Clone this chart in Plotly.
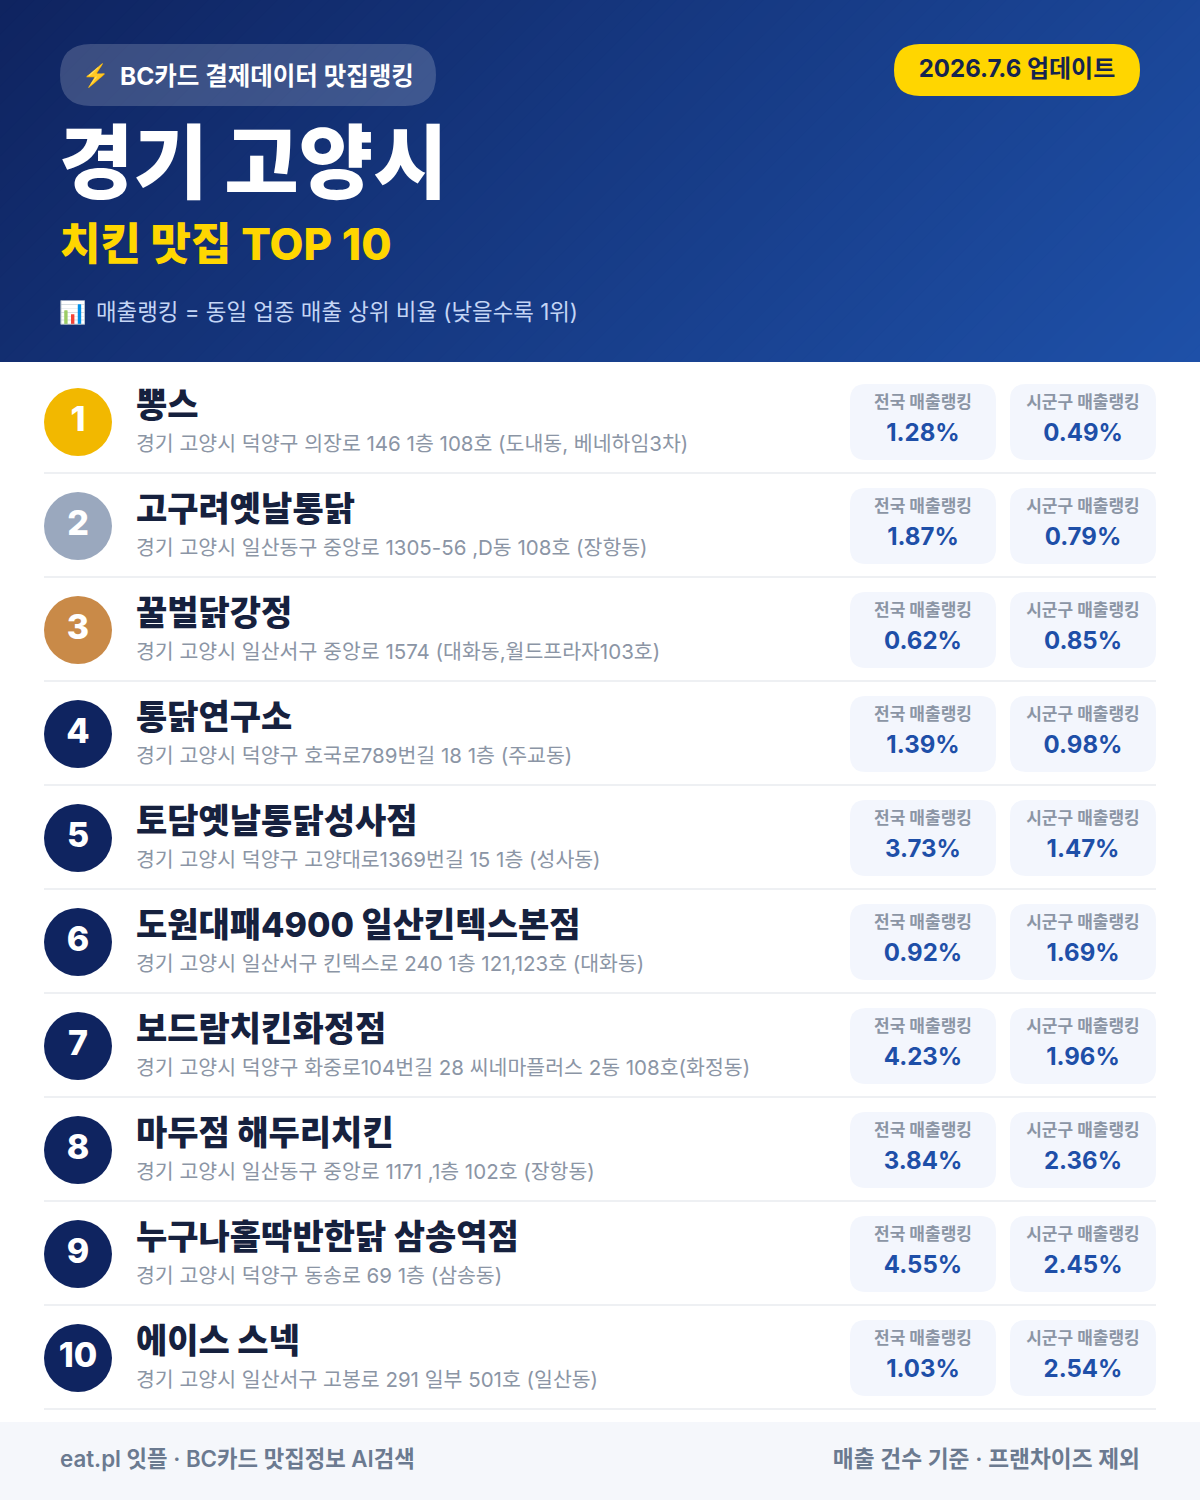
import plotly.graph_objects as go

# ---- data ----
ranks = list(range(1, 11))
names = ["뽕스", "고구려옛날통닭", "꿀벌닭강정", "통닭연구소", "토담옛날통닭성사점",
         "도원대패4900 일산킨텍스본점", "보드람치킨화정점", "마두점 해두리치킨",
         "누구나홀딱반한닭 삼송역점", "에이스 스넥"]
addresses = [
    "경기 고양시 덕양구 의장로 146 1층 108호 (도내동, 베네하임3차)",
    "경기 고양시 일산동구 중앙로 1305-56 ,D동 108호 (장항동)",
    "경기 고양시 일산서구 중앙로 1574 (대화동,월드프라자103호)",
    "경기 고양시 덕양구 호국로789번길 18 1층 (주교동)",
    "경기 고양시 덕양구 고양대로1369번길 15 1층 (성사동)",
    "경기 고양시 일산서구 킨텍스로 240 1층 121,123호 (대화동)",
    "경기 고양시 덕양구 화중로104번길 28 씨네마플러스 2동 108호(화정동)",
    "경기 고양시 일산동구 중앙로 1171 ,1층 102호 (장항동)",
    "경기 고양시 덕양구 동송로 69 1층 (삼송동)",
    "경기 고양시 일산서구 고봉로 291 일부 501호 (일산동)",
]
national = [1.28, 1.87, 0.62, 1.39, 3.73, 0.92, 4.23, 3.84, 4.55, 1.03]
local = [0.49, 0.79, 0.85, 0.98, 1.47, 1.69, 1.96, 2.36, 2.45, 2.54]
national_label = "전국 매출랭킹"
local_label = "시군구 매출랭킹"

# ---- style ----
FONT = "Inter, Noto Sans CJK KR"
W, H = 1200, 1500
HEAD_H = 362
ROW0, ROW_STEP = 422, 104
G0, G1 = (15, 36, 96), (30, 80, 168)
NAVY = "#0f2460"
badge_colors = ["#f2b800", "#9aa8be", "#c98a48"] + [NAVY] * 7


def rr(x0, y0, x1, y1, r):
    return (f"M{x0+r},{y0} L{x1-r},{y0} Q{x1},{y0} {x1},{y0+r} L{x1},{y1-r} Q{x1},{y1} {x1-r},{y1} "
            f"L{x0+r},{y1} Q{x0},{y1} {x0},{y1-r} L{x0},{y0+r} Q{x0},{y0} {x0+r},{y0} Z")


shapes = []
# diagonal header gradient: each step paints x+y >= c clipped to the header
STEPS = 90
L = W + HEAD_H
for s in range(STEPS):
    t = s / (STEPS - 1)
    c = L * s / STEPS
    col = "rgb(%d,%d,%d)" % tuple(round(a + (b - a) * t) for a, b in zip(G0, G1))
    pts = []
    if c <= W:
        pts.append((c, 0))
    else:
        pts.append((W, c - W))
    if c <= W:
        pts.append((W, 0))
    pts.append((W, HEAD_H))
    if c >= HEAD_H:
        pts.append((c - HEAD_H, HEAD_H))
    else:
        pts.append((0, HEAD_H))
        pts.append((0, c))
    path = "M" + " L".join(f"{x},{y}" for x, y in pts) + " Z"
    shapes.append(dict(type="path", path=path, fillcolor=col, line_width=0, layer="below"))

shapes.append(dict(type="path", path=rr(60, 44, 436, 106, 31), fillcolor="rgba(255,255,255,0.18)",
                   line_width=0, layer="below"))
shapes.append(dict(type="path", path=rr(894, 44, 1140, 96, 26), fillcolor="#ffd600",
                   line_width=0, layer="below"))
shapes.append(dict(type="rect", x0=0, x1=W, y0=1422, y1=H, fillcolor="#f5f7fb",
                   line_width=0, layer="below"))

for i in range(len(ranks)):
    yc = ROW0 + ROW_STEP * i
    shapes.append(dict(type="line", x0=44, x1=1156, y0=yc + 51, y1=yc + 51,
                       line=dict(color="#eef0f3", width=2), layer="below"))
    for x0 in (850, 1010):
        shapes.append(dict(type="path", path=rr(x0, yc - 38, x0 + 146, yc + 38, 16),
                           fillcolor="#f3f6fd", line_width=0, layer="below"))

fig = go.Figure()


def text(x, y, t, size, color, weight=400, pos="middle right"):
    fig.add_trace(go.Scatter(
        x=x, y=y, text=t, mode="text", textposition=pos, hoverinfo="skip", showlegend=False,
        textfont=dict(family=FONT, size=size, color=color, weight=weight), cliponaxis=False))


ys = [ROW0 + ROW_STEP * i for i in range(len(ranks))]

fig.add_trace(go.Scatter(
    x=[78] * len(ranks), y=ys, mode="markers", hoverinfo="skip", showlegend=False,
    marker=dict(size=68, color=badge_colors, line_width=0), cliponaxis=False))

# header
text([120], [79], ["BC카드 결제데이터 맛집랭킹"], 24.5, "#ffffff", 700)
text([82], [77], ["⚡"], 22, "#f7c52e", 400)
text([1017], [71], ["2026.7.6 업데이트"], 24, "#152450", 700, "middle center")
text([59], [172], ["경기 고양시"], 81, "#ffffff", 900)
text([60], [249], ["치킨 맛집 TOP 10"], 44, "#ffd600", 800)
text([59], [314], ["📊"], 22, "#ffffff", 400)
text([96], [314], ["매출랭킹 = 동일 업종 매출 상위 비율 (낮을수록 1위)"], 22.4, "#c4d5f5", 400)

# rows
text([78] * 10, ys, [str(r) for r in ranks], 34, "#ffffff", 800, "middle center")
text([136] * 10, [y - 14 for y in ys], names, 34, "#16213e", 800)
text([136] * 10, [y + 24 for y in ys], addresses, 20.5, "#8b95a5", 400)
text([923] * 10, [y - 18 for y in ys], [national_label] * 10, 17, "#8b95a5", 700, "middle center")
text([1083] * 10, [y - 18 for y in ys], [local_label] * 10, 17, "#8b95a5", 700, "middle center")
text([923] * 10, [y + 13 for y in ys], [f"{v:.2f}%" for v in national], 24, "#1e4fa8", 700, "middle center")
text([1083] * 10, [y + 13 for y in ys], [f"{v:.2f}%" for v in local], 24, "#1e4fa8", 700, "middle center")

# footer
text([60], [1461], ["eat.pl 잇플 · BC카드 맛집정보 AI검색"], 22.3, "#6b7a90", 600)
text([1140], [1461], ["매출 건수 기준 · 프랜차이즈 제외"], 22.7, "#6b7a90", 600, "middle left")

fig.update_layout(
    width=W, height=H, margin=dict(l=0, r=0, t=0, b=0), paper_bgcolor="#ffffff", plot_bgcolor="#ffffff",
    xaxis=dict(range=[0, W], visible=False, fixedrange=True),
    yaxis=dict(range=[H, 0], visible=False, fixedrange=True),
    shapes=shapes, showlegend=False, hovermode=False,
)
fig.write_html("out.html", config={"displayModeBar": False},
               post_script="document.body.style.margin='0';")
